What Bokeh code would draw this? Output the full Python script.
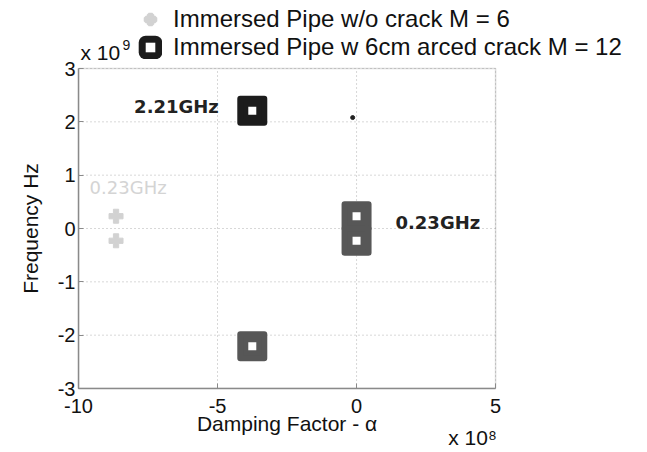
import numpy as np
from bokeh.plotting import figure
from bokeh.models import (ColumnDataSource, Legend, LegendItem, Label, Range1d,
                          FixedTicker, CustomJSTickFormatter, LinearAxis, BoxAnnotation)
from bokeh.core.properties import value
from bokeh.embed import file_html
from bokeh.resources import INLINE

# ---- data ----
x_ticks = [-10, -5, 0, 5]          # x 10^8
y_ticks = [-3, -2, -1, 0, 1, 2, 3]  # x 10^9
X_SCALE = 1e8
Y_SCALE = 1e9

alpha_nocrack = [-8.65e8, -8.65e8]
freq_nocrack = [0.23e9, -0.23e9]

alpha_crack = [-3.75e8, 0.0, 0.0, -3.75e8]
freq_crack = [2.21e9, 0.23e9, -0.23e9, -2.21e9]
color_crack = ["#1c1c1c", "#575757", "#575757", "#575757"]

alpha_dot = [-0.14e8]
freq_dot = [2.08e9]

ann_text = ["2.21GHz", "0.23GHz"]
ann_x = [-8.0e8, 1.4e8]
ann_y = [2.29e9, 0.11e9]

faint_text = ["0.23GHz"]
faint_x = [-9.6e8]
faint_y = [0.77e9]

x_label = "Damping Factor - α"
y_label = "Frequency Hz"
x_exp = "x 10\u2078"
legend_labels = ["Immersed Pipe w/o crack M = 6",
                 "Immersed Pipe w 6cm arced crack M = 12"]

FONT = "Liberation Sans"
GREY = "#8a8a8a"
TXT = "#111111"

xmin, xmax = x_ticks[0] * X_SCALE, x_ticks[-1] * X_SCALE
ymin, ymax = y_ticks[0] * Y_SCALE, y_ticks[-1] * Y_SCALE
x_mid = (xmin + xmax) / 2
y_mid = (ymin + ymax) / 2

# frame extended to the top and right so the legend/labels can sit there
p = figure(width=647, height=452, output_backend="svg", toolbar_location=None,
           x_range=Range1d(xmin, 10.32e8), y_range=Range1d(ymin, 4.275e9),
           min_border_left=78, min_border_right=4, min_border_top=0,
           min_border_bottom=64)
p.background_fill_color = "white"
p.border_fill_color = "white"
p.outline_line_color = None
p.grid.visible = False

xa = p.xaxis[0]
ya = p.yaxis[0]
xa.ticker = FixedTicker(ticks=[t * X_SCALE for t in x_ticks])
ya.ticker = FixedTicker(ticks=[t * Y_SCALE for t in y_ticks])
xa.formatter = CustomJSTickFormatter(code="return (tick/1e8).toFixed(0)")
ya.formatter = CustomJSTickFormatter(code="return (tick/1e9).toFixed(0)")
xa.bounds = (xmin, xmax)
ya.bounds = (ymin, ymax)
for ax in (xa, ya):
    ax.major_label_text_font = FONT
    ax.major_label_text_font_size = "20px"
    ax.major_label_text_color = TXT
    ax.major_tick_in = 5
    ax.major_tick_out = 0
    ax.minor_tick_in = 0
    ax.minor_tick_out = 0
    ax.axis_line_color = GREY
    ax.axis_line_width = 1.5
    ax.major_tick_line_color = GREY
xa.major_label_standoff = 10
ya.major_label_standoff = 3


def label_axis(tick, text, standoff, orientation="horizontal"):
    return LinearAxis(ticker=FixedTicker(ticks=[tick]),
                      formatter=CustomJSTickFormatter(code="return %r" % text),
                      axis_line_color=None, major_tick_line_color=None,
                      minor_tick_line_color=None, major_tick_in=0, major_tick_out=0,
                      minor_tick_in=0, minor_tick_out=0,
                      major_label_standoff=standoff,
                      major_label_orientation=orientation,
                      major_label_text_font=FONT, major_label_text_font_size="21px",
                      major_label_text_color=TXT)


# axis titles as single-tick axes so they centre on the visible box
p.add_layout(label_axis(x_mid, x_label, -4), "below")
p.add_layout(label_axis(4.17e8, x_exp, -12), "below")
p.add_layout(label_axis(y_mid, y_label, 13, "vertical"), "left")

# plot box
p.add_layout(BoxAnnotation(left=xmin, right=xmax, bottom=ymin, top=ymax,
                           fill_alpha=0, line_color=GREY, line_width=1.5))

# dotted grid
gx = [t * X_SCALE for t in x_ticks]
gy = [t * Y_SCALE for t in y_ticks]
p.segment(x0=gx, y0=[ymin] * len(gx), x1=gx, y1=[ymax] * len(gx),
          line_color="#b0b0b0", line_dash="1 3", line_width=1)
p.segment(x0=[xmin] * len(gy), y0=gy, x1=[xmax] * len(gy), y1=gy,
          line_color="#b0b0b0", line_dash="1 3", line_width=1)

# series 1 (faint)
src1 = ColumnDataSource(dict(x=alpha_nocrack, y=freq_nocrack))
p.scatter("x", "y", source=src1, marker="plus", size=14, color="#d2d2d2")

# series 2
src2 = ColumnDataSource(dict(x=alpha_crack, y=freq_crack, c=color_crack))
p.scatter("x", "y", source=src2, marker="square", size=24,
          fill_color="c", line_color="c", line_width=6, line_join="round")
p.scatter("x", "y", source=src2, marker="square", size=8,
          fill_color="white", line_color=None)

# small dark mark
src3 = ColumnDataSource(dict(x=alpha_dot, y=freq_dot))
p.scatter("x", "y", source=src3, marker="circle", size=4, color="#222222")

# annotations
src_ann = ColumnDataSource(dict(x=ann_x, y=ann_y, t=ann_text))
p.text("x", "y", text="t", source=src_ann, text_font=value("DejaVu Sans"),
       text_font_style="bold", text_font_size="18px", text_color="#222222",
       text_baseline="middle", text_align="left")
src_faint = ColumnDataSource(dict(x=faint_x, y=faint_y, t=faint_text))
p.text("x", "y", text="t", source=src_faint, text_font=value("DejaVu Sans"),
       text_font_style="normal", text_font_size="18px", text_color="#d4d4d4",
       text_baseline="middle", text_align="left")

# legend glyph proxies (not visible in the plot: NaN position)
nan_src = dict(x=np.array([np.nan]), y=np.array([np.nan]))
leg1 = p.scatter("x", "y", source=ColumnDataSource(nan_src), marker="plus",
                 size=10, color="#d2d2d2", line_width=4)
leg2 = p.scatter("x", "y", source=ColumnDataSource(nan_src), marker="square",
                 size=10, fill_color="#1c1c1c", line_color="#1c1c1c",
                 line_width=14, line_join="round")
leg2i = p.scatter("x", "y", source=ColumnDataSource(nan_src), marker="square",
                  size=10, fill_color="white", line_color=None)

legend = Legend(items=[
    LegendItem(label=legend_labels[0], renderers=[leg1]),
    LegendItem(label=legend_labels[1], renderers=[leg2, leg2i]),
], location=(60, 327), orientation="vertical", padding=0, margin=0, spacing=-6,
    glyph_width=24, glyph_height=24, label_standoff=11,
    border_line_color=None, background_fill_alpha=0,
    label_text_font=FONT, label_text_font_size="24px", label_text_color=TXT)
p.add_layout(legend, "center")

# exponent of the y axis
p.add_layout(Label(x=2, y=336, x_units="screen", y_units="screen", text="x 10",
                   text_font=FONT, text_font_size="21px", text_color=TXT,
                   text_baseline="middle"))
p.add_layout(Label(x=44, y=344, x_units="screen", y_units="screen", text="9",
                   text_font=FONT, text_font_size="14px", text_color=TXT,
                   text_baseline="middle"))

open("out.html", "w").write(file_html(p, INLINE))
